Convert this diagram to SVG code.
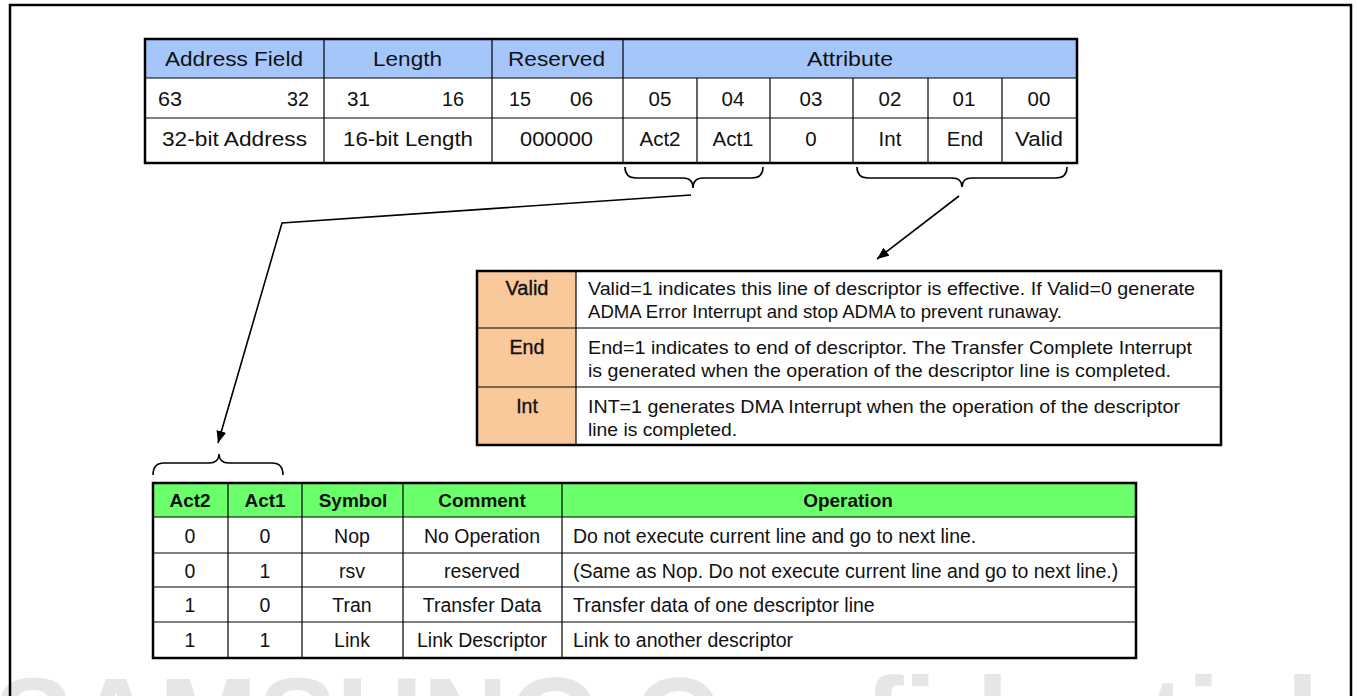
<svg xmlns="http://www.w3.org/2000/svg" width="1357" height="696" viewBox="0 0 1357 696">
<style>
  .bg { fill: #ffffff; }
  .frame { fill: none; stroke: #000; stroke-width: 2.5; }
  .outer { fill: none; stroke: #000; stroke-width: 2.5; }
  .grid { stroke: #000; stroke-width: 1.2; fill: none; }
  .t1 { font-family: "Liberation Sans", Arial, sans-serif; font-size: 20.5px; fill: #111; }
  .t2 { font-family: "Liberation Sans", Arial, sans-serif; font-size: 18.5px; fill: #111; }
  .t2l { font-family: "Liberation Sans", Arial, sans-serif; font-size: 19.5px; fill: #111; stroke: #111; stroke-width: 0.35; }
  .t3 { font-family: "Liberation Sans", Arial, sans-serif; font-size: 19.5px; fill: #111; }
  .t3b { font-family: "Liberation Sans", Arial, sans-serif; font-size: 19px; font-weight: bold; fill: #111; }
  .c { text-anchor: middle; }
  .wm { font-family: "Liberation Sans", Arial, sans-serif; font-size: 120px; font-weight: bold; fill: #e6e6e6; }
  .conn { fill: none; stroke: #000; stroke-width: 1.6; }
  .brace { fill: none; stroke: #000; stroke-width: 1.6; }
</style>
<defs>
  <marker id="arrow" viewBox="0 0 12 10" refX="12" refY="5" markerWidth="12" markerHeight="10" markerUnits="userSpaceOnUse" orient="auto">
    <path d="M0,0 L12,5 L0,10 z" fill="#000"/>
  </marker>
</defs>
<rect class="bg" x="0" y="0" width="1357" height="696"/>

<!-- watermark -->
<text class="wm" x="-6" y="762" textLength="1325" lengthAdjust="spacingAndGlyphs">SAMSUNG Confidential</text>

<!-- page frame -->
<path class="frame" d="M10,700 L10,5 L1351,5 L1351,700"/>

<!-- Top descriptor table -->
<g id="descriptor-table">
  <rect x="145" y="39" width="932" height="124" fill="#ffffff"/>
  <rect x="145" y="39" width="932" height="39" fill="#a4c6fb"/>
  <g class="grid">
    <line x1="145" y1="78" x2="1077" y2="78"/>
    <line x1="145" y1="118" x2="1077" y2="118"/>
    <line x1="324" y1="39" x2="324" y2="163"/>
    <line x1="492" y1="39" x2="492" y2="163"/>
    <line x1="623" y1="39" x2="623" y2="163"/>
    <line x1="697" y1="78" x2="697" y2="163"/>
    <line x1="770" y1="78" x2="770" y2="163"/>
    <line x1="853" y1="78" x2="853" y2="163"/>
    <line x1="928" y1="78" x2="928" y2="163"/>
    <line x1="1002" y1="78" x2="1002" y2="163"/>
  </g>
  <rect class="outer" x="145" y="39" width="932" height="124"/>
  <text class="t1" x="165" y="66" textLength="138" lengthAdjust="spacingAndGlyphs">Address Field</text>
  <text class="t1" x="373" y="66" textLength="69" lengthAdjust="spacingAndGlyphs">Length</text>
  <text class="t1" x="508" y="66" textLength="97" lengthAdjust="spacingAndGlyphs">Reserved</text>
  <text class="t1" x="807" y="66" textLength="86" lengthAdjust="spacingAndGlyphs">Attribute</text>

  <text class="t1" x="158" y="106" textLength="24" lengthAdjust="spacingAndGlyphs">63</text>
  <text class="t1" x="287" y="106" textLength="22" lengthAdjust="spacingAndGlyphs">32</text>
  <text class="t1" x="347" y="106" textLength="23" lengthAdjust="spacingAndGlyphs">31</text>
  <text class="t1" x="442" y="106" textLength="22" lengthAdjust="spacingAndGlyphs">16</text>
  <text class="t1" x="509" y="106" textLength="22" lengthAdjust="spacingAndGlyphs">15</text>
  <text class="t1" x="570" y="106" textLength="23" lengthAdjust="spacingAndGlyphs">06</text>
  <text class="t1 c" x="660" y="106">05</text>
  <text class="t1 c" x="733" y="106">04</text>
  <text class="t1 c" x="811" y="106">03</text>
  <text class="t1 c" x="890" y="106">02</text>
  <text class="t1 c" x="964" y="106">01</text>
  <text class="t1 c" x="1039" y="106">00</text>

  <text class="t1" x="162" y="146" textLength="145" lengthAdjust="spacingAndGlyphs">32-bit Address</text>
  <text class="t1" x="343" y="146" textLength="130" lengthAdjust="spacingAndGlyphs">16-bit Length</text>
  <text class="t1" x="520" y="146" textLength="73" lengthAdjust="spacingAndGlyphs">000000</text>
  <text class="t1 c" x="660" y="146">Act2</text>
  <text class="t1 c" x="733" y="146">Act1</text>
  <text class="t1 c" x="811" y="146">0</text>
  <text class="t1 c" x="890" y="146">Int</text>
  <text class="t1 c" x="965" y="146">End</text>
  <text class="t1" x="1015" y="146" textLength="48" lengthAdjust="spacingAndGlyphs">Valid</text>
</g>

<!-- braces -->
<g id="braces">
  <path class="brace" d="M625,167 Q625,178 636,178 L683,178 Q693,178 693,188 Q693,178 703,178 L752,178 Q763,178 763,167"/>
  <path class="brace" d="M857,167 Q857,178 868,178 L952,178 Q962,178 962,187 Q962,178 972,178 L1056,178 Q1067,178 1067,167"/>
  <path class="brace" d="M153,475 Q153,463 164,463 L209,463 Q219,463 219,454 Q219,463 229,463 L272,463 Q283,463 283,475"/>
</g>

<!-- connectors -->
<g id="connectors">
  <polyline class="conn" points="691,195 282,223 218,443" marker-end="url(#arrow)"/>
  <line class="conn" x1="959" y1="196" x2="877" y2="259" marker-end="url(#arrow)"/>
</g>

<!-- Attribute description table -->
<g id="attribute-table">
  <rect x="477" y="271" width="744" height="174" fill="#ffffff"/>
  <rect x="477" y="271" width="99" height="174" fill="#f9c99b"/>
  <g class="grid">
    <line x1="477" y1="328" x2="1221" y2="328"/>
    <line x1="477" y1="387" x2="1221" y2="387"/>
    <line x1="576" y1="271" x2="576" y2="445"/>
  </g>
  <rect class="outer" x="477" y="271" width="744" height="174"/>
  <text class="t2l c" x="527" y="295" textLength="43" lengthAdjust="spacingAndGlyphs">Valid</text>
  <text class="t2l c" x="527" y="354" textLength="35" lengthAdjust="spacingAndGlyphs">End</text>
  <text class="t2l c" x="527" y="413">Int</text>
  <text class="t2" x="588" y="295" textLength="607" lengthAdjust="spacingAndGlyphs">Valid=1 indicates this line of descriptor is effective. If Valid=0 generate</text>
  <text class="t2" x="588" y="318" textLength="474" lengthAdjust="spacingAndGlyphs">ADMA Error Interrupt and stop ADMA to prevent runaway.</text>
  <text class="t2" x="588" y="354" textLength="604" lengthAdjust="spacingAndGlyphs">End=1 indicates to end of descriptor. The Transfer Complete Interrupt</text>
  <text class="t2" x="588" y="377" textLength="583" lengthAdjust="spacingAndGlyphs">is generated when the operation of the descriptor line is completed.</text>
  <text class="t2" x="588" y="413" textLength="592" lengthAdjust="spacingAndGlyphs">INT=1 generates DMA Interrupt when the operation of the descriptor</text>
  <text class="t2" x="588" y="436" textLength="149" lengthAdjust="spacingAndGlyphs">line is completed.</text>
</g>

<!-- Action table -->
<g id="action-table">
  <rect x="153" y="483" width="983" height="175" fill="#ffffff"/>
  <rect x="153" y="483" width="983" height="34" fill="#6bff6b"/>
  <g class="grid">
    <line x1="153" y1="517" x2="1136" y2="517"/>
    <line x1="153" y1="553" x2="1136" y2="553"/>
    <line x1="153" y1="587" x2="1136" y2="587"/>
    <line x1="153" y1="622" x2="1136" y2="622"/>
    <line x1="228" y1="483" x2="228" y2="658"/>
    <line x1="302" y1="483" x2="302" y2="658"/>
    <line x1="403" y1="483" x2="403" y2="658"/>
    <line x1="562" y1="483" x2="562" y2="658"/>
  </g>
  <rect class="outer" x="153" y="483" width="983" height="175"/>
  <text class="t3b c" x="190" y="507">Act2</text>
  <text class="t3b c" x="265" y="507">Act1</text>
  <text class="t3b c" x="353" y="507">Symbol</text>
  <text class="t3b c" x="482" y="507">Comment</text>
  <text class="t3b c" x="848" y="507">Operation</text>

  <text class="t3 c" x="190" y="543">0</text>
  <text class="t3 c" x="265" y="543">0</text>
  <text class="t3 c" x="352" y="543">Nop</text>
  <text class="t3 c" x="482" y="543">No Operation</text>
  <text class="t3" x="573" y="543">Do not execute current line and go to next line.</text>

  <text class="t3 c" x="190" y="578">0</text>
  <text class="t3 c" x="265" y="578">1</text>
  <text class="t3 c" x="352" y="578">rsv</text>
  <text class="t3 c" x="482" y="578">reserved</text>
  <text class="t3" x="573" y="578">(Same as Nop. Do not execute current line and go to next line.)</text>

  <text class="t3 c" x="190" y="612">1</text>
  <text class="t3 c" x="265" y="612">0</text>
  <text class="t3 c" x="352" y="612">Tran</text>
  <text class="t3 c" x="482" y="612">Transfer Data</text>
  <text class="t3" x="573" y="612">Transfer data of one descriptor line</text>

  <text class="t3 c" x="190" y="647">1</text>
  <text class="t3 c" x="265" y="647">1</text>
  <text class="t3 c" x="352" y="647">Link</text>
  <text class="t3 c" x="482" y="647">Link Descriptor</text>
  <text class="t3" x="573" y="647">Link to another descriptor</text>
</g>
</svg>
